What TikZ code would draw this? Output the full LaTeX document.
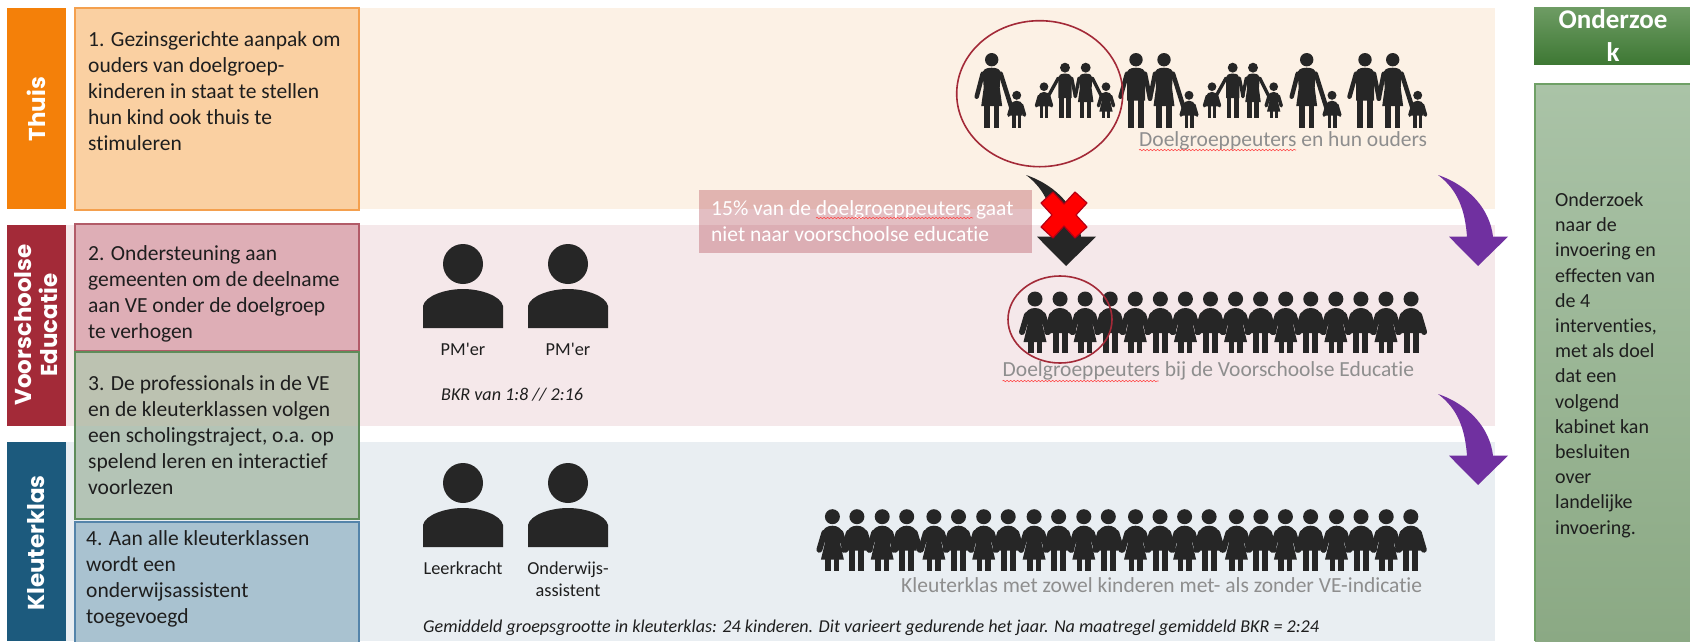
\documentclass[tikz,border=0pt]{standalone}
\usepackage{fontspec}
\setmainfont{Carlito}[Ligatures={NoCommon,TeXOff}]
\newfontfamily\popp{Poppins}
\usetikzlibrary{decorations.pathmorphing}
\definecolor{ink}{HTML}{262626}
\definecolor{body}{HTML}{1E1E1E}
\definecolor{grayt}{HTML}{8E8E8E}
\definecolor{vered}{HTML}{A32A38}
\tikzset{
  x=1pt,y=-1pt,
  sidebar/.style={font=\popp\bfseries\fontsize{23}{27}\selectfont,text=white,rotate=90,align=center,inner sep=0},
  para/.style={font=\fontsize{21.5}{26}\selectfont,text=body,align=left,anchor=base west,inner sep=0},
  smalltext/.style={font=\fontsize{18.3}{22}\selectfont,text=body,align=center,anchor=base,inner sep=0},
  notetext/.style={font=\itshape\fontsize{18.1}{22}\selectfont,text=body,anchor=base west,inner sep=0},
  captext/.style={font=\fontsize{21.5}{26}\selectfont,text=grayt,anchor=base west,inner sep=0},
  ring/.style={draw=vered,line width=1.6pt},
  squiggle/.style={draw=red!70!white,line width=.6pt,decorate,decoration={snake,segment length=3.5pt,amplitude=.7pt}},
  limb/.style={draw=ink,line cap=round,line width=4.5pt},
  kidlimb/.style={draw=ink,line cap=round,line width=6pt}
}
% #1 x, #2 feet y, #3 scale, #4,#5 left hand, #6,#7 right hand
\newcommand{\figman}[7]{\begin{scope}[shift={(#1,#2)},scale=#3]
  \fill[ink] (0,-68) circle[radius=6.7];
  \draw[limb,line width=#3*4.5pt] (-9,-54) -- (#4,#5);
  \draw[limb,line width=#3*4.5pt] (9,-54) -- (#6,#7);
  \fill[ink] (-9,-27) -- (-9,-54) .. controls (-9,-58) and (-6,-60) .. (0,-60) .. controls (6,-60) and (9,-58) .. (9,-54) -- (9,-27) -- cycle;
  \fill[ink] (-8,-30) rectangle (-1.7,0);
  \fill[ink] (1.7,-30) rectangle (8,0);
\end{scope}}
\newcommand{\figwoman}[7]{\begin{scope}[shift={(#1,#2)},scale=#3]
  \fill[ink] (0,-68) circle[radius=6.7];
  \draw[limb,line width=#3*4.5pt] (-9,-54) -- (#4,#5);
  \draw[limb,line width=#3*4.5pt] (9,-54) -- (#6,#7);
  \fill[ink] (-10.5,-21.5) -- (-8,-40) -- (-9,-54) .. controls (-9,-58) and (-6,-60) .. (0,-60) .. controls (6,-60) and (9,-58) .. (9,-54) -- (8,-40) -- (10.5,-21.5) -- cycle;
  \fill[ink] (-7.7,-25) rectangle (-1.8,0);
  \fill[ink] (1.8,-25) rectangle (7.7,0);
\end{scope}}
\newcommand{\kidb}[3]{\begin{scope}[shift={(#1,#2)},scale=#3]
  \fill[ink] (0,-54) circle[radius=7.5];
  \draw[kidlimb,line width=#3*6pt] (-8,-38) -- (-13,-21);
  \draw[kidlimb,line width=#3*6pt] (8,-38) -- (13,-21);
  \fill[ink] (-10,-20) -- (-10,-37) .. controls (-10,-42) and (-5,-45) .. (0,-45) .. controls (5,-45) and (10,-42) .. (10,-37) -- (10,-20) -- cycle;
  \fill[ink] (-7.5,-22) rectangle (-1.5,0);
  \fill[ink] (1.5,-22) rectangle (7.5,0);
\end{scope}}
\newcommand{\kidg}[3]{\begin{scope}[shift={(#1,#2)},scale=#3]
  \fill[ink] (0,-54) circle[radius=7.5];
  \draw[kidlimb,line width=#3*6pt] (-8,-38) -- (-13,-21);
  \draw[kidlimb,line width=#3*6pt] (8,-38) -- (13,-21);
  \fill[ink] (-11.5,-11) -- (-7.5,-28) -- (-10,-37) .. controls (-10,-42) and (-5,-45) .. (0,-45) .. controls (5,-45) and (10,-42) .. (10,-37) -- (7.5,-28) -- (11.5,-11) -- cycle;
  \fill[ink] (-7,-13) rectangle (-1.5,0);
  \fill[ink] (1.5,-13) rectangle (7,0);
\end{scope}}
\newcommand{\staffer}[2]{\begin{scope}[shift={(#1,#2)}]
  \fill[ink] (0,-64) circle[radius=20];
  \fill[ink] (-40,0) -- (-40,-22) .. controls (-38,-32) and (-18,-39) .. (0,-39) .. controls (18,-39) and (38,-32) .. (40,-22) -- (40,0) -- cycle;
\end{scope}}
\newcommand{\bentarrow}[3]{\fill[#3,shift={(#1,#2)}] (-40,-91) .. controls (-8,-80) and (12,-56) .. (15,-29.3) -- (30,-29.3) -- (0,0) -- (-29,-29.3) -- (-11,-29.3) .. controls (-13,-56) and (-20,-76) .. cycle;}
\begin{document}
\begin{tikzpicture}
\useasboundingbox (0,0) rectangle (1690,641);
\fill[white] (0,0) rectangle (1690,641);
% bands
\fill[fill={rgb,255:red,252;green,241;blue,229}] (360,8) rectangle (1495,209);
\fill[fill={rgb,255:red,245;green,232;blue,234}] (66,225) rectangle (1495,426);
\fill[fill={rgb,255:red,233;green,238;blue,242}] (66,442) rectangle (1495,641);
% side bars
\fill[fill={rgb,255:red,244;green,128;blue,9}] (7,8) rectangle (66,209);
\fill[vered] (7,225) rectangle (66,426);
\fill[fill={rgb,255:red,28;green,90;blue,125}] (7,442) rectangle (66,641);
\node[sidebar] (thuis) at (36,109) {Thuis};
\node[sidebar] (ve) at (36,325) {Voorschoolse\\[-1pt]Educatie};
\node[sidebar] (klas) at (36,543) {Kleuterklas};
% intervention boxes
\path[fill={rgb,255:red,250;green,208;blue,162},draw={rgb,255:red,244;green,160;blue,78},line width=1.5pt] (75,8) rectangle (359,210);
\path[fill={rgb,255:red,222;green,174;blue,182},draw={rgb,255:red,178;green,91;blue,104},line width=1.5pt] (75,224) rectangle (359,351);
\fill[fill={rgb,255:red,188;green,194;blue,177}] (75,352) rectangle (359,426);
\fill[fill={rgb,255:red,180;green,196;blue,182}] (75,426) rectangle (359,519);
\path[draw={rgb,255:red,94;green,140;blue,90},line width=1.5pt] (75,352) rectangle (359,519);
\path[fill={rgb,255:red,169;green,194;blue,208},draw={rgb,255:red,84;green,132;blue,170},line width=1.5pt] (75,522) rectangle (359,645);
\node[para] (t1) at (88,150) {1. Gezinsgerichte aanpak om\\ouders van doelgroep-\\kinderen in staat te stellen\\hun kind ook thuis te\\stimuleren};
\node[para] (t2) at (88,338.5) {2. Ondersteuning aan\\gemeenten om de deelname\\aan VE onder de doelgroep\\te verhogen};
\node[para] (t3) at (88,494) {3. De professionals in de VE\\en de kleuterklassen volgen\\een scholingstraject, o.a. op\\spelend leren en interactief\\voorlezen};
\node[para] (t4) at (86,623) {4. Aan alle kleuterklassen\\wordt een\\onderwijsassistent\\toegevoegd};
% staff
\staffer{463}{328}\staffer{568}{328}
\node[smalltext] (pm1) at (463,355) {PM'er};
\node[smalltext] (pm2) at (568,355) {PM'er};
\node[notetext] (bkr) at (441,400) {BKR van 1:8 // 2:16};
\staffer{463}{547}\staffer{568}{547}
\node[smalltext] (lk) at (463,574) {Leerkracht};
\node[smalltext] (oa) at (568,596) {Onderwijs-\\assistent};
\node[notetext] (gem) at (423,632.7) {Gemiddeld groepsgrootte in kleuterklas: 24 kinderen. Dit varieert gedurende het jaar. Na maatregel gemiddeld BKR = 2:24};
% families
\figwoman{991.7}{127.7}{1}{-15}{-31}{20}{-19}
\kidb{1016.7}{127.7}{.6}
\kidb{1044}{118}{.58}
\figman{1065}{118}{.74}{-24}{-27}{14}{-29}
\figwoman{1085.7}{118}{.74}{-14}{-29}{23}{-26}
\kidg{1106}{118}{.58}
\figman{1136}{127.7}{1}{-15.5}{-31}{14}{-29}
\figwoman{1164}{127.7}{1}{-14}{-29}{20}{-19}
\kidb{1189}{127.7}{.6}
\kidb{1212}{118}{.58}
\figman{1232.7}{118}{.74}{-24}{-27}{14}{-29}
\figwoman{1253}{118}{.74}{-14}{-29}{23}{-26}
\kidg{1273.7}{118}{.58}
\figwoman{1306.7}{127.7}{1}{-15}{-31}{20}{-19}
\kidb{1332}{127.7}{.6}
\figman{1365}{127.7}{1}{-15.5}{-31}{14}{-29}
\figwoman{1392.7}{127.7}{1}{-14}{-29}{20}{-19}
\kidb{1417.7}{127.7}{.6}
\draw[ring] (1039.7,93.7) ellipse[x radius=83,y radius=73];
\node[captext] (c1) at (1139,146) {Doelgroeppeuters en hun ouders};
\draw[squiggle] (1139,150) -- (1296,150);
% row 2 children
\foreach \i in {0,2,...,14}{\kidg{1035+25.07*\i}{353}{1}}
\foreach \i in {1,3,...,15}{\kidb{1035+25.07*\i}{353}{1}}
\draw[ring] (1060,319.5) ellipse[x radius=52,y radius=43.5];
\node[captext] (c2) at (1002.5,376.7) {Doelgroeppeuters bij de Voorschoolse Educatie};
\draw[squiggle] (1002.5,381) -- (1158.5,381);
% row 3 children
\foreach \x [count=\n] in {832.4,856.9,882.2,906.7,933.9,958.5,983.7,1008.2,1034.1,1058.6,1083.8,1108.3,1135.5,1160,1184.6,1209.1,1236.4,1260.9,1285.4,1310.6,1336.5,1361,1386.2,1410.8}{
  \ifodd\n \kidg{\x}{570.7}{1}\else\kidb{\x}{570.7}{1}\fi}
\node[captext] (c3) at (901,592.7) {Kleuterklas met zowel kinderen met- als zonder VE-indicatie};
% arrows
\bentarrow{1066}{266}{ink}
\bentarrow{1478}{266}{fill={rgb,255:red,112;green,48;blue,160}}
\bentarrow{1478}{485}{fill={rgb,255:red,112;green,48;blue,160}}
% callout
\path[fill=vered,fill opacity=.3] (698.5,190) rectangle (1032,253);
\node[para,text=white] (call) at (711,241) {15\% van de doelgroeppeuters gaat\\niet naar voorschoolse educatie};
\draw[squiggle] (816,218) -- (973,218);
% red cross
\path[shift={(1064,215)},fill=red,draw={rgb,255:red,180;green,0;blue,20},line width=1.2pt,line join=round] (0,-11) -- (11,-23) -- (23,-12) -- (12,0) -- (23,12) -- (11,23) -- (0,11) -- (-11,23) -- (-23,12) -- (-12,0) -- (-23,-12) -- (-11,-23) -- cycle;
% research column
\shade[top color={rgb,255:red,110;green,156;blue,100},bottom color={rgb,255:red,62;green,120;blue,52}] (1534,7) rectangle (1690,64);
\node[font=\bfseries\fontsize{27}{33}\selectfont,text=white,align=center,anchor=base,inner sep=0] (oz) at (1613,61.7) {Onderzoe\\k};
\shade[top color={rgb,255:red,170;green,195;blue,167},bottom color={rgb,255:red,139;green,169;blue,132}] (1535,84) rectangle (1690,641);
\draw[draw={rgb,255:red,111;green,160;blue,102},line width=1.5pt] (1690,84) -- (1535,84) -- (1535,641);
\node[para,font=\fontsize{20}{25.2}\selectfont] (oz2) at (1555,534) {Onderzoek\\naar de\\invoering en\\effecten van\\de 4\\interventies,\\met als doel\\dat een\\volgend\\kabinet kan\\besluiten\\over\\landelijke\\invoering.};
\end{tikzpicture}
\end{document}
